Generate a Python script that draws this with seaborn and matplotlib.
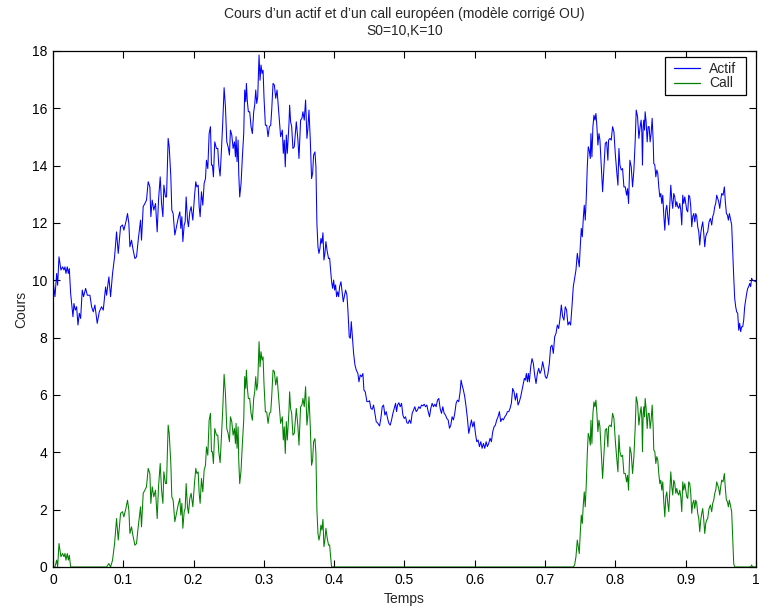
import numpy as np
import pandas as pd
import matplotlib
matplotlib.use("Agg")
import matplotlib.pyplot as plt
from matplotlib.path import Path
import seaborn as sns

# Simulated asset path (time in years, price)
temps = [
    0.0, 0.0028, 0.0052, 0.0066, 0.0085, 0.0113, 0.0137, 0.0156, 0.0170, 0.0184,
    0.0203, 0.0218, 0.0232, 0.0251, 0.0265, 0.0284, 0.0298, 0.0317, 0.0336, 0.0355,
    0.0374, 0.0393, 0.0416, 0.0435, 0.0464, 0.0488, 0.0525, 0.0549, 0.0573, 0.0596,
    0.0629, 0.0658, 0.0691, 0.0715, 0.0748, 0.0762, 0.0795, 0.0819, 0.0847, 0.0876,
    0.0904, 0.0928, 0.0961, 0.0989, 0.1008, 0.1037, 0.1060, 0.1079, 0.1094, 0.1117,
    0.1136, 0.1165, 0.1188, 0.1212, 0.1245, 0.1259, 0.1283, 0.1307, 0.1330, 0.1354,
    0.1378, 0.1392, 0.1411, 0.1434, 0.1458, 0.1482, 0.1501, 0.1525,
    0.1544, 0.1563, 0.1577, 0.1600, 0.1615, 0.1638, 0.1653, 0.1676, 0.1690, 0.1709,
    0.1733, 0.1757, 0.1780, 0.1804, 0.1818, 0.1833, 0.1847, 0.1866, 0.1880, 0.1894,
    0.1913, 0.1927, 0.1946, 0.1965, 0.1989, 0.2012, 0.2031, 0.2046, 0.2065, 0.2079,
    0.2093, 0.2112, 0.2131, 0.2150, 0.2169, 0.2183, 0.2202, 0.2221, 0.2240, 0.2254,
    0.2268, 0.2282, 0.2301, 0.2325, 0.2344, 0.2358, 0.2377, 0.2396, 0.2415, 0.2434,
    0.2453, 0.2472, 0.2491, 0.2510, 0.2524, 0.2543, 0.2562, 0.2581, 0.2595, 0.2604,
    0.2618, 0.2633, 0.2642, 0.2656, 0.2675, 0.2694, 0.2713, 0.2727, 0.2742, 0.2751,
    0.2765, 0.2779, 0.2798, 0.2817, 0.2836, 0.2855, 0.2869, 0.2884, 0.2898, 0.2912,
    0.2931, 0.2945, 0.2959, 0.2974, 0.2988, 0.3002, 0.3021, 0.3040, 0.3059, 0.3078,
    0.3097, 0.3111, 0.3130, 0.3149, 0.3168, 0.3187, 0.3206,
    0.3224, 0.3238, 0.3262, 0.3276, 0.3290, 0.3304, 0.3319, 0.3333, 0.3357, 0.3366,
    0.3380, 0.3395, 0.3413, 0.3432, 0.3461, 0.3484, 0.3499, 0.3522, 0.3541, 0.3555,
    0.3574, 0.3593, 0.3612, 0.3626, 0.3641, 0.3660, 0.3678, 0.3693, 0.3707, 0.3726,
    0.3740, 0.3754, 0.3769, 0.3783, 0.3797, 0.3811, 0.3825, 0.3840, 0.3854, 0.3868,
    0.3882, 0.3901, 0.3920,
    0.3935, 0.3949, 0.3963, 0.3978, 0.3992, 0.4006, 0.4020, 0.4034, 0.4049, 0.4063,
    0.4077, 0.4096, 0.4115, 0.4129, 0.4143, 0.4162, 0.4181, 0.4195, 0.4214, 0.4229,
    0.4243, 0.4257, 0.4276, 0.4295, 0.4314, 0.4337, 0.4352, 0.4371, 0.4390, 0.4408,
    0.4423, 0.4442, 0.4465, 0.4484, 0.4503, 0.4522, 0.4541, 0.4560, 0.4579, 0.4598,
    0.4622, 0.4645, 0.4664, 0.4683, 0.4702, 0.4721, 0.4740, 0.4759, 0.4778, 0.4797,
    0.4816, 0.4835, 0.4854, 0.4873, 0.4887, 0.4901, 0.4920, 0.4939, 0.4958, 0.4977,
    0.4996, 0.5015, 0.5034, 0.5052, 0.5071, 0.5090, 0.5109, 0.5128, 0.5147, 0.5166,
    0.5185, 0.5204, 0.5223, 0.5242, 0.5261, 0.5280, 0.5299, 0.5318, 0.5337, 0.5356,
    0.5374, 0.5393, 0.5412, 0.5431, 0.5450, 0.5469, 0.5488, 0.5507, 0.5526, 0.5545,
    0.5564, 0.5583, 0.5602, 0.5621, 0.5640, 0.5659, 0.5677, 0.5696, 0.5715, 0.5734,
    0.5753, 0.5772, 0.5791, 0.5805, 0.5819, 0.5838, 0.5857, 0.5876, 0.5895, 0.5914,
    0.5933, 0.5952, 0.5971, 0.5990, 0.6009, 0.6028, 0.6047, 0.6066, 0.6085, 0.6104,
    0.6123, 0.6142, 0.6161, 0.6179, 0.6198, 0.6217, 0.6236, 0.6255, 0.6274, 0.6293,
    0.6312, 0.6331, 0.6350, 0.6369, 0.6388, 0.6407, 0.6426, 0.6445, 0.6464, 0.6483,
    0.6501, 0.6520, 0.6539, 0.6558, 0.6577, 0.6596, 0.6615, 0.6634, 0.6653,
    0.6691, 0.6705, 0.6719, 0.6733, 0.6748, 0.6762, 0.6776, 0.6795, 0.6814, 0.6833,
    0.6852, 0.6871, 0.6890, 0.6909, 0.6928, 0.6947, 0.6965, 0.6984, 0.7003, 0.7022,
    0.7041, 0.7060, 0.7079, 0.7098, 0.7117, 0.7136, 0.7155, 0.7174, 0.7193, 0.7212,
    0.7231, 0.7250, 0.7268, 0.7287, 0.7306, 0.7325, 0.7344, 0.7363, 0.7382, 0.7401,
    0.7420, 0.7439, 0.7458, 0.7472, 0.7486, 0.7500, 0.7515, 0.7529, 0.7543, 0.7557,
    0.7571, 0.7586, 0.7600, 0.7614, 0.7628, 0.7643, 0.7652, 0.7666, 0.7680, 0.7695,
    0.7709, 0.7723, 0.7737, 0.7751, 0.7766, 0.7780, 0.7799, 0.7818, 0.7837, 0.7856,
    0.7875, 0.7893, 0.7903, 0.7922, 0.7941, 0.7960, 0.7979, 0.7998, 0.8017, 0.8036,
    0.8050, 0.8064, 0.8083, 0.8102, 0.8121, 0.8140, 0.8159, 0.8173, 0.8187, 0.8206,
    0.8225, 0.8244, 0.8263, 0.8282, 0.8296, 0.8315, 0.8334,
    0.8352, 0.8366, 0.8376, 0.8385, 0.8395, 0.8404, 0.8414, 0.8423, 0.8437, 0.8452,
    0.8466, 0.8480, 0.8494, 0.8508, 0.8523, 0.8537, 0.8546, 0.8561, 0.8575, 0.8589,
    0.8603, 0.8617, 0.8632, 0.8646, 0.8660, 0.8674, 0.8688, 0.8703, 0.8717, 0.8731,
    0.8745, 0.8759, 0.8774, 0.8788, 0.8802, 0.8816, 0.8830, 0.8845, 0.8859, 0.8873,
    0.8887, 0.8901, 0.8916, 0.8930, 0.8944, 0.8958, 0.8972, 0.8987, 0.9001, 0.9015,
    0.9029, 0.9043, 0.9058, 0.9072, 0.9086, 0.9100, 0.9115, 0.9129, 0.9143, 0.9157,
    0.9171, 0.9186, 0.9200, 0.9214, 0.9228, 0.9242, 0.9257, 0.9271, 0.9285, 0.9299,
    0.9313, 0.9332, 0.9351, 0.9370, 0.9384, 0.9399, 0.9413, 0.9427, 0.9441, 0.9455,
    0.9470, 0.9484, 0.9498, 0.9512, 0.9531, 0.9550, 0.9564, 0.9579, 0.9593, 0.9607,
    0.9621, 0.9635, 0.9654, 0.9668, 0.9683, 0.9697, 0.9711, 0.9725, 0.9740, 0.9754,
    0.9768, 0.9782, 0.9796, 0.9811, 0.9825, 0.9839, 0.9853, 0.9867, 0.9882, 0.9896,
    0.9910, 0.9924, 0.9938, 0.9948, 1.0,
]

actif = [
    10.00, 9.43, 10.24, 9.83, 10.82, 10.36, 10.47, 10.36, 10.47, 10.24,
    10.47, 10.24, 10.41, 9.54, 9.19, 8.73, 9.19, 8.96, 9.08, 8.44,
    8.85, 8.67, 9.66, 9.43, 9.72, 9.48, 9.48, 9.08, 8.90, 9.14,
    8.50, 8.90, 9.08, 8.96, 9.77, 9.48, 10.12, 9.43, 10.24, 10.82,
    11.69, 10.94, 11.87, 11.93, 11.75, 12.04, 12.33, 11.98, 11.17, 11.40,
    11.11, 10.76, 10.82, 11.40, 12.10, 11.40, 12.57, 12.68, 12.80, 13.44,
    13.26, 12.22, 12.80, 12.45, 12.68, 11.69, 12.80, 13.61,
    12.68, 12.22, 13.32, 12.91, 12.91, 14.95, 14.66, 13.61, 12.45, 12.33,
    11.58, 11.87, 12.16, 12.39, 11.81, 12.22, 11.35, 11.93, 12.04, 12.91,
    12.10, 11.87, 12.39, 12.57, 12.10, 12.91, 13.44, 13.26, 13.32, 12.57,
    12.22, 13.09, 12.62, 13.38, 13.55, 14.19, 13.90, 15.12, 15.36, 14.02,
    14.02, 13.61, 14.83, 14.60, 14.60, 14.02, 13.64, 14.54, 15.53, 16.72,
    16.05, 14.83, 14.66, 14.37, 15.24, 15.07, 14.60, 14.83, 14.31, 15.01,
    14.14, 14.89, 13.73, 12.91, 13.38, 14.31, 15.12, 16.64, 16.23, 16.87,
    16.23, 15.88, 15.88, 15.36, 15.12, 15.88, 16.11, 16.64, 16.17, 16.40,
    17.86, 16.98, 17.51, 17.22, 17.33, 16.35, 15.41, 15.41, 15.01, 15.36,
    15.41, 15.94, 16.87, 16.81, 16.35, 16.64, 16.05,
    15.53, 15.01, 15.24, 14.43, 14.89, 13.96, 15.07, 14.43, 15.47, 16.11,
    15.53, 15.36, 14.60, 14.66, 15.53, 14.89, 14.25, 15.59, 15.65, 15.88,
    15.59, 16.29, 14.95, 15.30, 15.94, 14.89, 13.55, 13.73, 14.37, 14.48,
    13.96, 11.98, 11.17, 10.94, 11.11, 11.46, 11.29, 11.66, 10.71, 10.94,
    11.35, 11.00, 10.76,
    10.77, 10.36, 9.95, 9.72, 10.01, 9.66, 9.84, 9.43, 9.60, 9.43,
    9.78, 9.95, 9.55, 9.25, 9.43, 9.66, 9.49, 8.96, 8.03, 7.98,
    8.56, 8.09, 7.45, 7.05, 6.87, 6.75, 6.46, 6.70, 6.64, 6.75,
    6.17, 6.11, 5.77, 5.77, 5.80, 5.53, 5.50, 5.65, 5.36, 5.07,
    5.01, 4.92, 5.19, 5.59, 5.65, 5.30, 5.42, 5.19, 5.01, 4.95,
    5.13, 5.36, 5.53, 5.71, 5.42, 5.65, 5.73, 5.59, 5.71, 5.30,
    5.18, 5.24, 5.03, 5.01, 5.13, 5.01, 5.36, 5.48, 5.59, 5.42,
    5.48, 5.59, 5.53, 5.65, 5.62, 5.68, 5.59, 5.65, 5.42, 5.24,
    5.53, 5.71, 5.59, 5.68, 5.59, 5.82, 5.88, 5.53, 5.36, 5.59,
    5.36, 5.30, 5.18, 5.13, 4.84, 4.95, 5.24, 5.13, 5.36, 5.71,
    5.82, 5.77, 6.11, 6.52, 6.35, 6.17, 5.94, 5.59, 5.18, 4.66,
    4.89, 5.13, 4.89, 5.07, 4.66, 4.37, 4.43, 4.20, 4.37, 4.14,
    4.31, 4.14, 4.37, 4.20, 4.31, 4.49, 4.37, 4.72, 4.89, 4.95,
    5.13, 5.24, 5.42, 5.07, 5.18, 5.13, 5.24, 5.30, 5.42, 5.42,
    5.53, 5.71, 6.23, 6.11, 5.82, 6.06, 5.65, 5.77, 5.94,
    6.40, 6.58, 6.52, 6.75, 6.46, 6.75, 6.46, 6.98, 7.27, 7.10,
    6.69, 6.40, 6.75, 6.93, 6.75, 6.87, 7.16, 6.93, 6.64, 6.58,
    6.75, 7.10, 7.68, 7.74, 7.45, 8.03, 8.15, 8.44, 8.32, 8.67,
    9.14, 8.73, 8.61, 9.08, 8.96, 8.44, 8.55, 8.44, 9.08, 9.78,
    10.07, 10.36, 10.94, 10.71, 10.47, 11.17, 11.81, 11.52, 12.16, 12.62,
    12.10, 12.91, 13.96, 14.66, 14.54, 14.25, 15.12, 14.31, 15.36, 15.76,
    15.59, 15.82, 15.36, 14.72, 15.12, 14.89, 13.96, 13.09, 13.96, 14.78,
    14.83, 14.19, 14.89, 14.95, 14.89, 15.36, 15.18, 14.43, 13.85, 13.32,
    14.60, 14.02, 13.85, 13.90, 13.26, 13.26, 12.97, 13.20, 12.68, 14.19,
    13.96, 13.26, 13.85, 14.89, 15.94, 15.71, 14.95,
    15.36, 15.59, 15.18, 14.02, 15.36, 15.59, 15.24, 15.88, 15.53, 14.83,
    15.36, 15.36, 14.83, 15.12, 15.65, 14.89, 14.08, 14.02, 13.61, 13.85,
    13.73, 13.26, 12.91, 13.03, 12.68, 12.97, 12.28, 11.75, 12.45, 12.62,
    12.22, 11.93, 12.68, 13.32, 12.80, 12.51, 13.03, 12.91, 12.57, 12.74,
    12.57, 12.51, 12.68, 12.45, 11.93, 12.97, 12.68, 12.91, 12.68, 12.45,
    12.39, 12.97, 12.91, 12.57, 11.87, 12.22, 12.33, 12.04, 12.33, 12.22,
    11.87, 11.69, 11.23, 11.64, 11.87, 12.04, 11.64, 11.17, 11.52, 11.64,
    11.69, 12.04, 12.16, 11.93, 12.22, 12.33, 12.57, 12.68, 12.97, 12.86,
    12.74, 12.51, 12.80, 13.03, 12.97, 13.26, 12.74, 12.33, 12.28, 12.10,
    12.33, 12.16, 11.93, 11.05, 10.12, 9.37, 9.08, 8.90, 8.85, 8.26,
    8.50, 8.21, 8.38, 8.38, 8.61, 9.08, 9.31, 9.54, 9.72, 9.78,
    9.89, 9.78, 10.07, 10.01, 9.95,
]

strike = 10.0
series_names = ["Actif", "Call"]
series_colors = ["#0000ff", "#008000"]

# European call value along the path: intrinsic value max(S - K, 0)
call = np.maximum(np.asarray(actif) - strike, 0.0)

df = pd.concat([
    pd.DataFrame({"Temps": temps, "Cours": actif, "Série": series_names[0]}),
    pd.DataFrame({"Temps": temps, "Cours": call, "Série": series_names[1]}),
], ignore_index=True)

sns.set_style("ticks")
plt.rcParams["font.family"] = ["Liberation Sans", "DejaVu Sans"]

fig = plt.figure(figsize=(7.59, 6.11), dpi=100)
ax = fig.add_axes([53 / 759, 1 - 567 / 611, 703 / 759, 516 / 611])

sns.lineplot(data=df, x="Temps", y="Cours", hue="Série",
             palette=dict(zip(series_names, series_colors)),
             estimator=None, sort=False, linewidth=0.75, ax=ax)

ax.set_xlim(0, 1)
ax.set_ylim(0, 18)
xt = np.round(np.arange(0, 1.01, 0.1), 1)
ax.set_xticks(xt)
ax.set_xticklabels(["0" if v == 0 else "1" if v == 1 else f"{v:.1f}" for v in xt])
ax.set_yticks(np.arange(0, 19, 2))
ax.tick_params(direction="in", top=True, right=True, length=5, width=0.8,
               labelsize=10, colors="black", pad=4)
for s in ax.spines.values():
    s.set_visible(True)
    s.set_color("black")
    s.set_linewidth(0.9)

ax.set_xlabel("Temps", fontsize=10, labelpad=4)
ax.set_ylabel("Cours", fontsize=10, labelpad=3)
ax.set_title("Cours d\u2019un actif et d\u2019un call européen (modèle corrigé OU)\nS0=10,K=10",
             fontsize=10, pad=11.5, linespacing=1.25)


def wide_box(x0, y0, width, height, mutation_size):
    """Square legend frame with extra horizontal padding."""
    dx = 0.33 * mutation_size
    return Path([(x0 - dx, y0), (x0 + width + dx, y0), (x0 + width + dx, y0 + height),
                 (x0 - dx, y0 + height), (x0 - dx, y0)], closed=True)


leg = ax.legend(loc="upper right", bbox_to_anchor=(0.979, 0.9884), borderaxespad=0,
                fontsize=10, frameon=True, fancybox=False, edgecolor="black",
                framealpha=1, handlelength=1.9, handletextpad=0.65,
                borderpad=0.34, labelspacing=0.05, title=None)
leg.get_frame().set_boxstyle(wide_box)
leg.get_frame().set_linewidth(0.9)
for line in leg.get_lines():
    line.set_linewidth(0.9)

fig.savefig("out.png", dpi=100)
